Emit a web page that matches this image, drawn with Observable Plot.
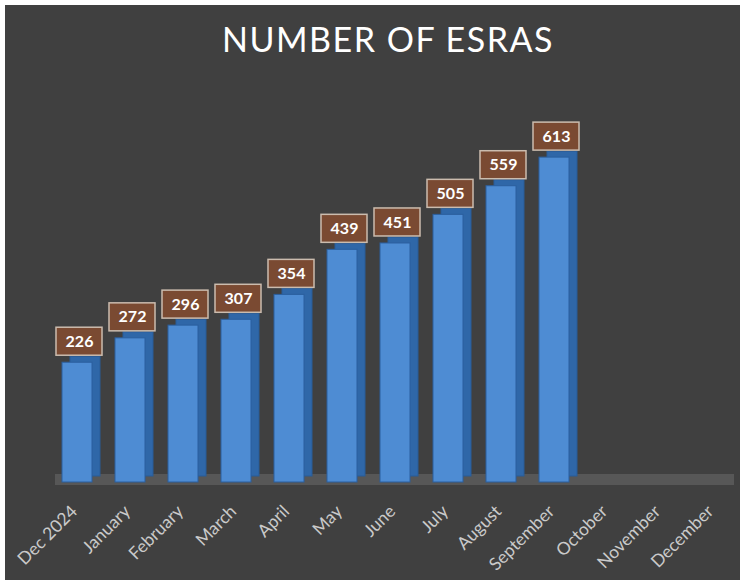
<!DOCTYPE html>
<html>
<head>
<meta charset="utf-8">
<script src="https://cdn.jsdelivr.net/npm/d3@7"></script>
<script src="https://cdn.jsdelivr.net/npm/@observablehq/plot@0.6"></script>
<style>
  html, body { margin: 0; padding: 0; background: #ffffff; }
  #frame { position: absolute; left: 5px; top: 5px; width: 735px; height: 575px; background: #404040; overflow: hidden; }
  #title { position: absolute; left: 0; top: 13px; width: 100%; text-align: center; color: #ffffff;
           font-family: Lato, "Open Sans", sans-serif; font-size: 34px; letter-spacing: 1.5px; padding-left: 31px; box-sizing: border-box; }
  #chart { position: absolute; left: 0; top: 0; }
</style>
</head>
<body>
<div id="frame">
  <div id="chart"></div>
  <div id="title">NUMBER OF ESRAS</div>
</div>
<script>
const months = ["Dec 2024", "January", "February", "March", "April", "May", "June", "July", "August", "September", "October", "November", "December"];
const counts = [226, 272, 296, 307, 354, 439, 451, 505, 559, 613, null, null, null];

const data = months.map((m, i) => ({month: m, value: counts[i]}));
const filled = data.filter(d => d.value != null);

const chart = Plot.plot({
  width: 735,
  height: 575,
  marginLeft: 50,
  marginRight: 6,
  marginTop: 106,
  marginBottom: 98,
  style: {background: "transparent", fontFamily: "Lato, 'Open Sans', sans-serif"},
  x: {domain: months, paddingInner: 0.44, paddingOuter: 0.1, label: null},
  y: {domain: [0, 700], axis: null},
  marks: [
    Plot.ruleY([0], {stroke: "#575757", strokeWidth: 11, dy: -3}),
    Plot.axisX({tickSize: 0, tickRotate: -45, tickPadding: 26, dx: -3, fontSize: 17.5, fill: "#cacaca", stroke: null}),
    Plot.barY(filled, {x: "month", y: "value", fill: "#2f67a8", stroke: "#295c98", dx: 8, dy: -6}),
    Plot.barY(filled, {x: "month", y: "value", fill: "#4e8cd3", stroke: "#2b5f9e", strokeWidth: 1}),
    Plot.barY(filled, {x: "month", y1: "value", y2: "value", insetTop: -14, insetBottom: -14, insetLeft: -8, insetRight: -8, dx: 2, dy: -21, fill: "#7a4a32", stroke: "#cbbcae", strokeWidth: 1.5}),
    Plot.text(filled, {x: "month", y: "value", text: d => String(d.value), dx: 2, dy: -21, fill: "#ffffff", fontWeight: "bold", fontSize: 16})
  ]
});
document.getElementById("chart").appendChild(chart);
</script>
</body>
</html>
